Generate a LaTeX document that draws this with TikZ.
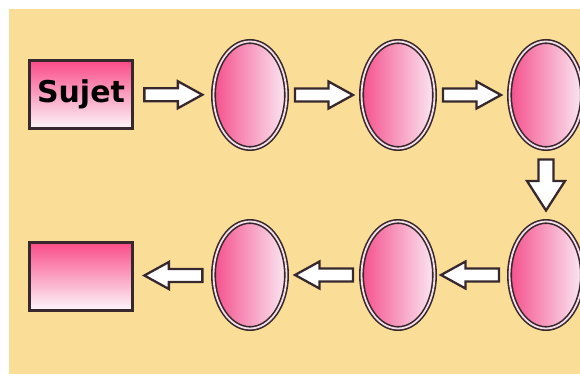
\documentclass[tikz,border=0pt]{standalone}
\usepackage{fontspec}
\setmainfont{DejaVu Sans}
\usetikzlibrary{shapes.geometric,calc}
\definecolor{beige}{RGB}{250,222,152}
\definecolor{pinkL}{RGB}{245,80,140}
\definecolor{pinkR}{RGB}{250,232,243}
\definecolor{pinkT}{RGB}{250,75,135}
\definecolor{pinkB}{RGB}{252,246,250}
\definecolor{edge}{RGB}{55,40,45}
\definecolor{gap}{RGB}{245,222,232}
\tikzset{
  x=1pt,y=-1pt,
  oval/.style={ellipse,draw=edge,line width=1.6pt,double=gap,double distance=1.8pt,
    minimum width=73pt,minimum height=107pt,inner sep=0pt,
    left color=pinkL,right color=pinkR},
  box/.style={rectangle,draw=edge,line width=3pt,minimum width=103pt,minimum height=68pt,
    inner sep=0pt,top color=pinkT,bottom color=pinkB},
  arrowline/.style={draw=edge,line width=2.3pt,fill=white,line join=miter},
  harrow/.pic={\path[arrowline] (-29,-6.5) -- (4.5,-6.5) -- (4.5,-13.5) -- (29,0) -- (4.5,13.5) -- (4.5,6.5) -- (-29,6.5) -- cycle;},
  varrow/.pic={\path[arrowline] (-25.5,-7.5) -- (-4,-7.5) -- (-4,-19) -- (25.5,0) -- (-4,19) -- (-4,7.5) -- (-25.5,7.5) -- cycle;}
}
\begin{document}
\begin{tikzpicture}
\clip (0,0) rectangle (580,374);
\fill[white] (0,0) rectangle (580,374);
\fill[beige] (9,9) rectangle (580,374);
\node[box,font=\bfseries\fontsize{30}{34}\selectfont] (s) at (81,94.5) {Sujet};
\node[oval] (e1) at (250,95) {};
\node[oval] (e2) at (398,95) {};
\node[oval] (e3) at (546,95) {};
\node[oval] (e4) at (546,275) {};
\node[oval] (e5) at (398,275) {};
\node[oval] (e6) at (250,275) {};
\node[box] (r) at (81,276) {};
\pic at ($(s.east)!0.5!(e1.west)$) {harrow};
\pic at ($(e1.east)!0.5!(e2.west)$) {harrow};
\pic at ($(e2.east)!0.5!(e3.west)$) {harrow};
\pic[rotate=-90] at ($(e3.south)!0.5!(e4.north)$) {varrow};
\pic[rotate=180] at ($(e4.west)!0.5!(e5.east)+(-2,0)$) {harrow};
\pic[rotate=180] at ($(e5.west)!0.5!(e6.east)$) {harrow};
\pic[rotate=180] at ($(e6.west)!0.5!(r.east)$) {harrow};
\end{tikzpicture}
\end{document}
